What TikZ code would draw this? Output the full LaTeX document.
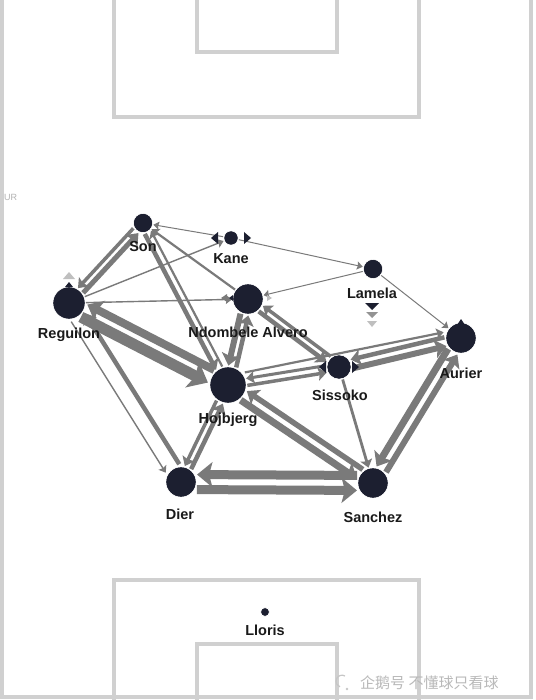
\documentclass[tikz,border=0pt]{standalone}
\usepackage{fontspec}
\setmainfont{Liberation Sans}
\newfontfamily\cjk{Noto Sans CJK SC}
\usetikzlibrary{calc,arrows.meta}
\definecolor{navy}{HTML}{1C1F30}
\definecolor{passgray}{HTML}{7A7A7A}
\definecolor{pitchgray}{HTML}{D0D0D0}
\definecolor{labelc}{HTML}{1A1A1A}
\def\rreg{16}\def\rson{9.5}\def\rkane{7}\def\rndo{15}\def\rlam{9.5}
\def\raur{15}\def\rsis{12}\def\rhoj{18}\def\rdier{15}\def\rsan{15}
\newcommand\passarr[4]{%
  \draw[pass, line width=#3pt,
    shorten <={\csname r#1\endcsname pt+1pt},
    shorten >={\csname r#2\endcsname pt+1pt}]
    ($(#1)!#4pt!90:(#2)$) -- ($(#2)!#4pt!-90:(#1)$);}
\tikzset{
  pitch/.style={draw=pitchgray, line width=3.5pt},
  player/.style={circle, fill=navy, draw=white, line width=0.8pt, inner sep=0pt},
  lbl/.style={font=\fontsize{14.5}{15}\selectfont\bfseries, text=labelc, inner sep=0pt},
  pass/.style={draw=passgray, -{Stealth[length=4.5pt 1.2, width=6pt 2.1, inset=0.5pt 0.3]}},
  tri/.style={fill=#1, draw=none},
}
\begin{document}
\begin{tikzpicture}[x=1pt,y=-1pt]
\useasboundingbox (0,0) rectangle (535,700);
\fill[white] (0,0) rectangle (535,700);
% pitch
\draw[pitch] (2,-5) -- (2,697) -- (531,697) -- (531,-5);
\draw[pitch] (114,-5) -- (114,117) -- (419,117) -- (419,-5);
\draw[pitch] (197,-5) -- (197,52) -- (337,52) -- (337,-5);
\draw[pitch] (114,705) -- (114,580) -- (419,580) -- (419,705);
\draw[pitch] (197,705) -- (197,644) -- (337,644) -- (337,705);
\node[text=gray!60, font=\fontsize{9}{10}\selectfont, anchor=west, inner sep=0pt] (ur) at (4,197) {UR};
% players
\node[player, minimum size=19pt] (son) at (143,223) {};
\node[player, minimum size=14pt] (kane) at (231,238) {};
\node[player, minimum size=32pt] (reg) at (69,303) {};
\node[player, minimum size=30pt] (ndo) at (248,299) {};
\node[player, minimum size=19pt] (lam) at (373,269) {};
\node[player, minimum size=30pt] (aur) at (461,338) {};
\node[player, minimum size=24pt] (sis) at (339,367) {};
\node[player, minimum size=36pt] (hoj) at (228,385) {};
\node[player, minimum size=30pt] (dier) at (181,482) {};
\node[player, minimum size=30pt] (san) at (373,483) {};
\node[player, minimum size=9pt] (llo) at (265,612) {};
% passes
\passarr{reg}{son}{5}{-3.5}
\passarr{son}{reg}{3.5}{-3.5}
\passarr{reg}{kane}{1.4}{0}
\passarr{reg}{ndo}{1.4}{0}
\passarr{reg}{hoj}{11}{-7}
\passarr{hoj}{reg}{8}{-7}
\passarr{reg}{dier}{1.4}{-8}
\passarr{dier}{reg}{4.5}{-8}
\passarr{son}{hoj}{4.5}{-3.5}
\passarr{hoj}{son}{2.2}{-3.5}
\passarr{ndo}{son}{2.2}{0}
\passarr{kane}{son}{1}{0}
\passarr{kane}{lam}{1}{0}
\passarr{lam}{ndo}{1}{0}
\passarr{lam}{aur}{1}{0}
\passarr{ndo}{hoj}{6}{-4}
\passarr{hoj}{ndo}{4.5}{-4}
\passarr{ndo}{sis}{4.5}{-3.5}
\passarr{sis}{ndo}{3.5}{-3.5}
\passarr{hoj}{sis}{3.5}{-3.5}
\passarr{sis}{hoj}{3}{-3.5}
\passarr{sis}{aur}{6}{-4.5}
\passarr{aur}{sis}{4.5}{-4.5}
\passarr{hoj}{aur}{2.2}{9}
\passarr{hoj}{san}{7}{-5.5}
\passarr{san}{hoj}{5.5}{-5.5}
\passarr{sis}{san}{2.8}{0}
\passarr{aur}{san}{7}{-5.5}
\passarr{san}{aur}{6}{-5.5}
\passarr{dier}{san}{9}{-7.5}
\passarr{san}{dier}{9}{-7.5}
\passarr{dier}{hoj}{4.5}{-3.5}
\passarr{hoj}{dier}{3.5}{-3.5}
% redraw player discs on top
\foreach \p in {son,kane,reg,ndo,lam,aur,sis,hoj,dier,san}
  \fill[navy] (\p) circle[radius=\csname r\p\endcsname pt - 0.4pt];
% markers
\fill[tri=navy] (218,232) -- (218,244) -- (211,238) -- cycle;
\fill[tri=navy] (244,232) -- (244,244) -- (251,238) -- cycle;
\fill[tri=passgray] (227,294) -- (227,302) -- (221,298) -- cycle;
\fill[tri=navy] (233,295) -- (233,301) -- (229,298) -- cycle;
\fill[tri=gray!50] (267,295) -- (267,301) -- (272,298) -- cycle;
\fill[tri=navy] (326,361) -- (326,373) -- (319,367) -- cycle;
\fill[tri=navy] (352,361) -- (352,373) -- (359,367) -- cycle;
\fill[tri=gray!50] (63,279) -- (75,279) -- (69,272) -- cycle;
\fill[tri=navy] (65,287) -- (73,287) -- (69,282) -- cycle;
\fill[tri=navy] (457,325) -- (465,325) -- (461,319) -- cycle;
\fill[tri=navy] (365,303) -- (379,303) -- (372,310) -- cycle;
\fill[tri=gray!85] (366,312) -- (378,312) -- (372,318) -- cycle;
\fill[tri=gray!50] (367,321) -- (377,321) -- (372,327) -- cycle;
% labels
\node[lbl] (lson) at (143,247) {Son};
\node[lbl] (lkane) at (231,259) {Kane};
\node[lbl] (lreg) at (69,335) {Reguilon};
\node[lbl] (lndo) at (248,332) {Ndombele Alvero};
\node[lbl] (llam) at (372,293) {Lamela};
\node[lbl] (laur) at (461,373) {Aurier};
\node[lbl] (lsis) at (340,395) {Sissoko};
\node[lbl] (lhoj) at (228,420) {Hojbjerg};
\node[lbl] (ldier) at (180,514) {Dier};
\node[lbl] (lsan) at (373,517) {Sanchez};
\node[lbl] (lllo) at (265,630) {Lloris};
% watermark
\draw[gray!45, line width=1.2pt] (345,676) arc[start angle=60, end angle=250, radius=6pt];
\fill[gray!45] (347,689) circle[radius=1.3pt];
\node[text=gray!55, font=\cjk\fontsize{15}{16}\selectfont, anchor=west, inner sep=0pt] (wm) at (360,683) {企鹅号 不懂球只看球};
\end{tikzpicture}
\end{document}
